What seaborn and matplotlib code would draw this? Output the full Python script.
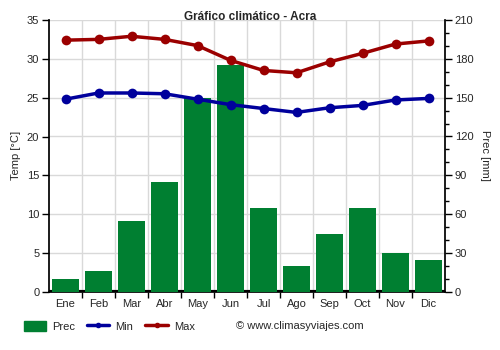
import matplotlib
matplotlib.use("Agg")
import matplotlib.pyplot as plt
import seaborn as sns
import pandas as pd
import numpy as np
from matplotlib.lines import Line2D
from matplotlib.patches import Patch

months = ["Ene", "Feb", "Mar", "Abr", "May", "Jun", "Jul", "Ago", "Sep", "Oct", "Nov", "Dic"]
prec = [10, 16, 55, 85, 150, 175, 65, 20, 45, 65, 30, 25]
tmin = [24.8, 25.6, 25.6, 25.5, 24.8, 24.1, 23.6, 23.1, 23.7, 24.0, 24.7, 24.9]
tmax = [32.4, 32.5, 32.9, 32.5, 31.7, 29.8, 28.5, 28.2, 29.6, 30.7, 31.9, 32.3]

sns.set_theme(style="white")
plt.rcParams['font.family'] = ['Liberation Sans', 'DejaVu Sans']

df = pd.DataFrame({"month": months, "prec": prec, "tmin": tmin, "tmax": tmax})

green = "#007f31"
blue = "#00009c"
red = "#9b0000"

fig = plt.figure(figsize=(5, 3.5), dpi=100)
axp = fig.add_axes([0.098, 0.166, 0.792, 0.777])
sns.barplot(data=df, x="month", y="prec", color=green, saturation=1, width=0.8, ax=axp,
            zorder=3, edgecolor="none", linewidth=0)
axt = axp.twinx()

axp.set_ylim(0, 210)
axp.set_xlim(-0.5, 11.5)
axp.yaxis.tick_right()
axp.yaxis.set_label_position("right")
axp.set_yticks(np.arange(0, 211, 30))
axp.set_yticks(np.arange(0, 211, 10), minor=True)
axp.set_ylabel("Prec [mm]", fontsize=8, labelpad=12, rotation=270)
axp.set_xlabel("")
axp.set_xticks(np.arange(0.5, 11, 1), minor=True)
axp.set_xticks(range(12))
axp.set_xticklabels(months)
axp.tick_params(axis="x", which="major", length=0, labelsize=8, pad=5)
axp.tick_params(axis="x", which="minor", length=4, width=1, color="black", bottom=True)
axp.tick_params(axis="y", which="major", length=5, width=1, color="black", labelsize=8,
                right=True, left=False, labelright=True, labelleft=False, pad=2)
axp.tick_params(axis="y", which="minor", length=3, width=1, color="black", right=True, left=False)
axp.grid(True, axis="y", which="major", color="#d9d9d9", lw=1, zorder=0)
axp.grid(True, axis="x", which="minor", color="#d9d9d9", lw=1, zorder=0)
axp.set_axisbelow(True)
for s in ["top", "left"]:
    axp.spines[s].set_visible(False)
axp.spines["right"].set_color("black")
axp.spines["bottom"].set_color("black")
axp.axhline(0, color="black", lw=3, zorder=2)

sns.lineplot(x=np.arange(12), y=df["tmin"], color=blue, lw=2.5, marker="o", markersize=7,
             markeredgewidth=0, ax=axt)
sns.lineplot(x=np.arange(12), y=df["tmax"], color=red, lw=2.5, marker="o", markersize=7,
             markeredgewidth=0, ax=axt)
axt.yaxis.tick_left()
axt.yaxis.set_label_position("left")
axt.set_ylim(0, 35)
axt.set_xlim(-0.5, 11.5)
axt.set_yticks(np.arange(0, 36, 5))
axt.set_ylabel("Temp [°C]", fontsize=8, labelpad=4)
axt.tick_params(axis="y", length=5, width=1, color="black", labelsize=8,
                left=True, right=False, labelleft=True, labelright=False, pad=2)
for s in ["top", "right", "bottom"]:
    axt.spines[s].set_visible(False)
axt.spines["left"].set_visible(True)
axt.spines["left"].set_color("black")

fig.text(0.5, 0.95, "Gráfico climático - Acra", ha="center", va="center", fontsize=8.5, fontweight="bold")

handles = [Patch(facecolor=green, edgecolor=green),
           Line2D([0], [0], color=blue, lw=2.5, marker="o", markersize=3),
           Line2D([0], [0], color=red, lw=2.5, marker="o", markersize=3)]
fig.legend(handles, ["Prec", "Min", "Max"], loc="center left", bbox_to_anchor=(0.047, 0.068),
           ncol=3, frameon=False, fontsize=8, handlelength=2.0, handleheight=1.1, columnspacing=1.1,
           handletextpad=0.55, borderpad=0, borderaxespad=0)
fig.text(0.472, 0.068, "© www.climasyviajes.com", ha="left", va="center", fontsize=8)

fig.savefig("out.png", dpi=100)
